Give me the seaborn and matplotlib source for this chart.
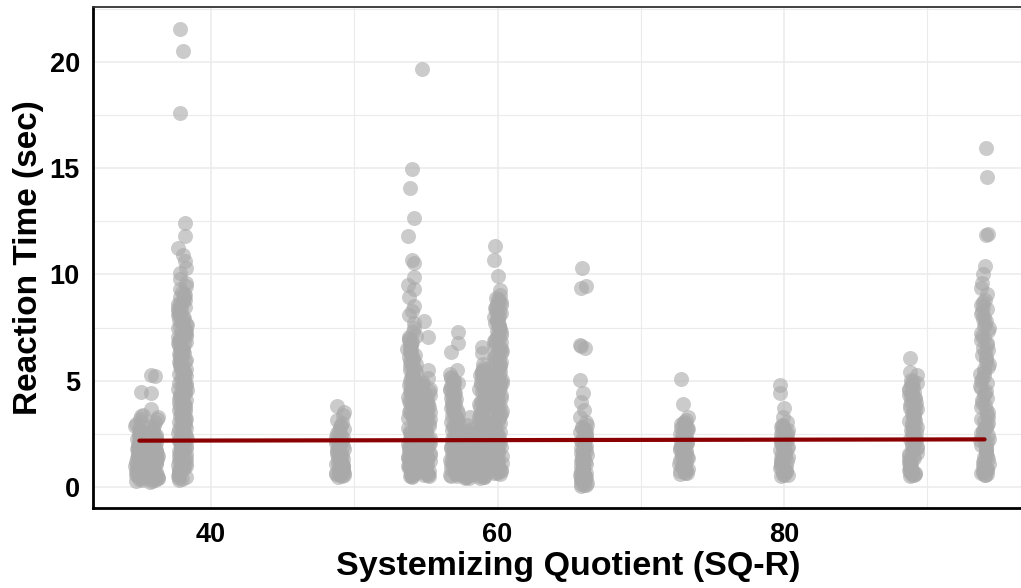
import numpy as np
import pandas as pd
import matplotlib.pyplot as plt
from matplotlib.ticker import MultipleLocator
import seaborn as sns

# SQ-R score of each participant column, and the reaction times (sec)
sq_levels = [35, 36, 38, 49, 54, 55, 57, 58, 59, 60, 66, 73, 80, 89, 94]

rt_35 = [0.28, 0.33, 0.38, 0.42, 0.46, 0.5, 0.53, 0.57, 0.6, 0.63, 0.67, 0.7, 0.73, 0.77, 0.8, 0.83,
         0.87, 0.9, 0.94, 0.97, 1.0, 1.04, 1.08, 1.11, 1.15, 1.19, 1.22, 1.26, 1.3, 1.34, 1.38, 1.42,
         1.46, 1.5, 1.55, 1.59, 1.63, 1.68, 1.72, 1.77, 1.82, 1.87, 1.92, 1.97, 2.03, 2.09, 2.15, 2.21,
         2.28, 2.35, 2.42, 2.5, 2.58, 2.66, 2.75, 2.85, 2.95, 3.06, 3.18, 3.32, 3.4, 4.47]
rt_36 = [0.22, 0.27, 0.32, 0.36, 0.4, 0.44, 0.48, 0.52, 0.56, 0.6, 0.64, 0.68, 0.72, 0.76, 0.8, 0.84,
         0.88, 0.92, 0.96, 1.0, 1.04, 1.09, 1.13, 1.17, 1.21, 1.26, 1.3, 1.35, 1.39, 1.44, 1.49, 1.54,
         1.59, 1.64, 1.69, 1.75, 1.81, 1.87, 1.93, 1.99, 2.06, 2.13, 2.2, 2.28, 2.36, 2.44, 2.53, 2.62,
         2.72, 2.82, 2.93, 3.05, 3.18, 3.3, 3.68, 4.4, 5.2, 5.27]
rt_38 = [21.54, 20.53, 17.6, 12.44, 11.83, 11.24, 10.92, 10.62, 10.3, 10.07, 9.8, 9.6, 9.45, 9.3,
         9.18, 9.1, 9.02, 8.95, 8.88, 8.8, 8.73, 8.66, 8.6, 8.53, 8.46, 8.4, 8.33, 8.27, 8.2, 8.14,
         8.08, 8.02, 7.96, 7.9, 7.84, 7.78, 7.72, 7.66, 7.6, 7.55, 7.49, 7.43, 7.38, 7.32, 7.27, 7.21,
         7.16, 7.1, 7.05, 6.99, 6.94, 6.88, 6.83, 6.78, 6.72, 6.67, 6.62, 6.56, 6.51, 6.46, 6.4, 6.35,
         6.3, 6.25, 6.19, 6.14, 6.09, 6.04, 5.98, 5.93, 5.88, 5.83, 5.78, 5.72, 5.67, 5.62, 5.57, 5.52,
         5.46, 5.41, 5.36, 5.31, 5.26, 5.2, 5.15, 5.1, 5.05, 5.0, 4.94, 4.89, 4.84, 4.79, 4.74, 4.68,
         4.63, 4.58, 4.53, 4.48, 4.42, 4.37, 4.32, 4.27, 4.22, 4.16, 4.11, 4.06, 4.01, 3.96, 3.9, 3.85,
         3.8, 3.75, 3.7, 3.64, 3.59, 3.54, 3.49, 3.44, 3.38, 3.33, 3.28, 3.23, 3.18, 3.12, 3.07, 3.02,
         2.97, 2.92, 2.86, 2.81, 2.76, 2.71, 2.66, 2.6, 2.55, 2.5, 2.45, 2.4, 2.34, 2.29, 2.24, 2.19,
         2.14, 2.08, 2.03, 1.98, 1.93, 1.88, 1.82, 1.77, 1.72, 1.67, 1.62, 1.56, 1.51, 1.46, 1.41, 1.36,
         1.3, 1.25, 1.2, 1.15, 1.1, 1.04, 0.99, 0.94, 0.89, 0.84, 0.78, 0.73, 0.68, 0.63, 0.58, 0.52,
         0.47, 0.42, 0.37, 0.32]
rt_49 = [0.47, 0.5, 0.54, 0.57, 0.6, 0.64, 0.67, 0.71, 0.74, 0.78, 0.82, 0.86, 0.9, 0.94, 0.98, 1.02,
         1.06, 1.1, 1.15, 1.2, 1.25, 1.3, 1.35, 1.4, 1.45, 1.5, 1.56, 1.62, 1.68, 1.74, 1.8, 1.86, 1.93,
         2.0, 2.07, 2.14, 2.21, 2.29, 2.37, 2.45, 2.54, 2.63, 2.72, 2.82, 2.92, 3.02, 3.15, 3.38, 3.52,
         3.8]
rt_54 = [14.96, 14.07, 12.65, 11.83, 10.7, 10.55, 9.9, 9.5, 9.3, 8.95, 8.5, 8.3, 8.1, 7.72, 7.5, 7.3,
         7.12, 7.05, 6.98, 6.9, 6.83, 6.76, 6.69, 6.62, 6.55, 6.48, 6.41, 6.34, 6.27, 6.2, 6.13, 6.06,
         5.99, 5.92, 5.85, 5.78, 5.71, 5.64, 5.57, 5.5, 5.43, 5.36, 5.29, 5.22, 5.15, 5.08, 5.01, 4.94,
         4.87, 4.8, 4.73, 4.66, 4.59, 4.52, 4.45, 4.38, 4.31, 4.24, 4.17, 4.1, 4.03, 3.96, 3.89, 3.82,
         3.75, 3.68, 3.61, 3.54, 3.47, 3.4, 3.33, 3.26, 3.19, 3.12, 3.05, 2.98, 2.91, 2.84, 2.77, 2.7,
         2.63, 2.56, 2.49, 2.42, 2.35, 2.28, 2.21, 2.14, 2.07, 2.0, 1.93, 1.86, 1.79, 1.72, 1.65, 1.58,
         1.51, 1.44, 1.37, 1.3, 1.23, 1.16, 1.09, 1.02, 0.95, 0.88, 0.81, 0.74, 0.67, 0.6, 0.53, 0.47,
         0.5, 0.57, 0.64, 0.71, 0.85, 0.99, 1.13, 1.27, 1.41, 1.55]
rt_55 = [19.66, 7.8, 7.06, 5.5, 5.15, 4.95, 4.88, 4.81, 4.74, 4.67, 4.6, 4.53, 4.46, 4.39, 4.32, 4.25,
         4.18, 4.11, 4.04, 3.97, 3.9, 3.83, 3.76, 3.69, 3.62, 3.55, 3.48, 3.41, 3.34, 3.27, 3.2, 3.13,
         3.06, 2.99, 2.92, 2.85, 2.78, 2.71, 2.64, 2.57, 2.5, 2.43, 2.36, 2.29, 2.22, 2.15, 2.08, 2.01,
         1.94, 1.87, 1.8, 1.73, 1.66, 1.59, 1.52, 1.45, 1.38, 1.31, 1.24, 1.17, 1.1, 1.03, 0.96, 0.89,
         0.82, 0.75, 0.68, 0.61, 0.54, 0.5, 0.58, 0.66, 0.74, 0.92, 1.06]
rt_57 = [7.3, 6.78, 6.33, 5.5, 5.3, 5.18, 5.11, 5.04, 4.97, 4.9, 4.83, 4.76, 4.69, 4.62, 4.55, 4.48,
         4.41, 4.34, 4.27, 4.2, 4.13, 4.06, 3.99, 3.92, 3.85, 3.78, 3.71, 3.64, 3.57, 3.5, 3.43, 3.36,
         3.29, 3.22, 3.15, 3.08, 3.01, 2.94, 2.87, 2.8, 2.73, 2.66, 2.59, 2.52, 2.45, 2.38, 2.31, 2.24,
         2.17, 2.1, 2.03, 1.96, 1.89, 1.82, 1.75, 1.68, 1.61, 1.54, 1.47, 1.4, 1.33, 1.26, 1.19, 1.12,
         1.05, 0.98, 0.91, 0.84, 0.77, 0.7, 0.63, 0.56, 0.5, 0.53, 0.6, 0.67, 0.8, 0.94, 1.08]
rt_58 = [3.3, 2.9, 2.75, 2.68, 2.62, 2.56, 2.5, 2.44, 2.38, 2.32, 2.26, 2.2, 2.14, 2.08, 2.02, 1.96,
         1.9, 1.84, 1.78, 1.72, 1.66, 1.6, 1.54, 1.48, 1.42, 1.36, 1.3, 1.24, 1.18, 1.12, 1.06, 1.0,
         0.94, 0.88, 0.82, 0.76, 0.7, 0.64, 0.58, 0.52, 0.46, 0.4, 0.43, 0.49, 0.55, 0.61, 0.73, 0.85,
         0.97]
rt_59 = [6.6, 6.3, 5.8, 5.6, 5.53, 5.46, 5.39, 5.32, 5.25, 5.18, 5.11, 5.04, 4.97, 4.9, 4.83, 4.76,
         4.69, 4.62, 4.55, 4.48, 4.41, 4.34, 4.27, 4.2, 4.13, 4.06, 3.99, 3.92, 3.85, 3.78, 3.71, 3.64,
         3.57, 3.5, 3.43, 3.36, 3.29, 3.22, 3.15, 3.08, 3.01, 2.94, 2.87, 2.8, 2.73, 2.66, 2.59, 2.52,
         2.45, 2.38, 2.31, 2.24, 2.17, 2.1, 2.03, 1.96, 1.89, 1.82, 1.75, 1.68, 1.61, 1.54, 1.47, 1.4,
         1.33, 1.26, 1.19, 1.12, 1.05, 0.98, 0.91, 0.84, 0.77, 0.7, 0.63, 0.56, 0.49, 0.42, 0.46, 0.52,
         0.6, 0.74, 0.88]
rt_60 = [11.36, 10.7, 9.93, 9.27, 9.05, 8.9, 8.83, 8.76, 8.69, 8.62, 8.55, 8.48, 8.41, 8.34, 8.27,
         8.2, 8.13, 8.06, 7.99, 7.92, 7.85, 7.78, 7.71, 7.64, 7.57, 7.5, 7.43, 7.36, 7.29, 7.22, 7.15,
         7.08, 7.01, 6.94, 6.87, 6.8, 6.73, 6.66, 6.59, 6.52, 6.45, 6.38, 6.31, 6.24, 6.17, 6.1, 6.03,
         5.96, 5.89, 5.82, 5.75, 5.68, 5.61, 5.54, 5.47, 5.4, 5.33, 5.26, 5.19, 5.12, 5.05, 4.98, 4.91,
         4.84, 4.77, 4.7, 4.63, 4.56, 4.49, 4.42, 4.35, 4.28, 4.21, 4.14, 4.07, 4.0, 3.93, 3.86, 3.79,
         3.72, 3.65, 3.58, 3.51, 3.44, 3.37, 3.3, 3.23, 3.16, 3.09, 3.02, 2.95, 2.88, 2.81, 2.74, 2.67,
         2.6, 2.53, 2.46, 2.39, 2.32, 2.25, 2.18, 2.11, 2.04, 1.97, 1.9, 1.83, 1.76, 1.69, 1.62, 1.55,
         1.48, 1.41, 1.34, 1.27, 1.2, 1.13, 1.06, 0.99, 0.92, 0.85, 0.78, 0.71, 0.64, 0.6, 0.67, 0.74,
         0.88]
rt_66 = [10.3, 9.46, 9.36, 6.7, 6.62, 6.54, 5.04, 4.42, 4.0, 3.64, 3.3, 3.05, 2.9, 2.84, 2.78, 2.72,
         2.66, 2.6, 2.54, 2.48, 2.42, 2.36, 2.3, 2.24, 2.18, 2.12, 2.06, 2.0, 1.94, 1.88, 1.82, 1.76,
         1.7, 1.64, 1.58, 1.52, 1.46, 1.4, 1.34, 1.28, 1.22, 1.16, 1.1, 1.04, 0.98, 0.92, 0.86, 0.8,
         0.74, 0.68, 0.62, 0.56, 0.5, 0.44, 0.38, 0.32, 0.26, 0.2, 0.14, 0.08, 0.04, 0.11, 0.23, 0.35,
         0.47, 0.59]
rt_73 = [5.08, 3.9, 3.3, 3.15, 3.08, 3.02, 2.96, 2.9, 2.84, 2.78, 2.72, 2.66, 2.6, 2.54, 2.48, 2.42,
         2.36, 2.3, 2.24, 2.18, 2.12, 2.06, 2.0, 1.94, 1.88, 1.82, 1.76, 1.7, 1.64, 1.58, 1.52, 1.46,
         1.4, 1.34, 1.28, 1.22, 1.16, 1.1, 1.04, 0.98, 0.92, 0.86, 0.8, 0.74, 0.68, 0.62, 0.65, 0.71,
         0.83]
rt_80 = [4.78, 4.4, 3.72, 3.28, 3.05, 2.92, 2.86, 2.8, 2.74, 2.68, 2.62, 2.56, 2.5, 2.44, 2.38, 2.32,
         2.26, 2.2, 2.14, 2.08, 2.02, 1.96, 1.9, 1.84, 1.78, 1.72, 1.66, 1.6, 1.54, 1.48, 1.42, 1.36,
         1.3, 1.24, 1.18, 1.12, 1.06, 1.0, 0.94, 0.88, 0.82, 0.76, 0.7, 0.64, 0.58, 0.52, 0.55, 0.61,
         0.73]
rt_89 = [6.06, 5.4, 5.25, 5.05, 4.98, 4.91, 4.84, 4.77, 4.7, 4.63, 4.56, 4.49, 4.42, 4.35, 4.28, 4.21,
         4.14, 4.07, 4.0, 3.93, 3.86, 3.79, 3.72, 3.65, 3.58, 3.51, 3.44, 3.37, 3.3, 3.23, 3.16, 3.09,
         3.02, 2.95, 2.88, 2.81, 2.74, 2.67, 2.6, 2.53, 2.46, 2.39, 2.32, 2.25, 2.18, 2.11, 2.04, 1.97,
         1.9, 1.83, 1.76, 1.69, 1.62, 1.55, 1.48, 1.41, 1.34, 1.27, 1.2, 1.13, 1.06, 0.99, 0.92, 0.85,
         0.78, 0.71, 0.64, 0.57, 0.5, 0.54, 0.6, 0.68, 0.82]
rt_94 = [15.97, 14.6, 11.9, 11.85, 10.4, 10.0, 9.6, 9.36, 9.1, 8.8, 8.7, 8.58, 8.47, 8.36, 8.25, 8.13,
         8.02, 7.91, 7.8, 7.68, 7.57, 7.46, 7.35, 7.23, 7.12, 7.01, 6.9, 6.78, 6.67, 6.56, 6.45, 6.33,
         6.22, 6.11, 6.0, 5.88, 5.77, 5.66, 5.55, 5.43, 5.32, 5.21, 5.1, 4.98, 4.87, 4.76, 4.65, 4.53,
         4.42, 4.31, 4.2, 4.08, 3.97, 3.86, 3.75, 3.63, 3.52, 3.41, 3.3, 3.2, 3.1, 3.0, 2.92, 2.84,
         2.76, 2.68, 2.6, 2.52, 2.44, 2.36, 2.28, 2.2, 2.12, 2.04, 1.96, 1.88, 1.8, 1.72, 1.64, 1.56,
         1.48, 1.4, 1.32, 1.24, 1.16, 1.08, 1.0, 0.93, 0.86, 0.79, 0.72, 0.65, 0.58, 0.55, 0.62, 0.7,
         0.85]

# fitted linear trend (ends of the red line)
fit_sq = [35, 94]
fit_rt = [2.18, 2.24]

columns = [rt_35, rt_36, rt_38, rt_49, rt_54, rt_55, rt_57, rt_58, rt_59, rt_60,
           rt_66, rt_73, rt_80, rt_89, rt_94]
df = pd.DataFrame({
    'sq': np.repeat(sq_levels, [len(c) for c in columns]),
    'rt': np.concatenate(columns),
})

sns.set_style('white')
plt.rcParams['font.family'] = ['Liberation Sans', 'DejaVu Sans']
plt.rcParams['font.weight'] = 'bold'

W, H = 1021, 588
fig = plt.figure(figsize=(W / 100, H / 100), dpi=100)
ax = fig.add_axes([93 / W, (H - 508) / H, (1043 - 93) / W, (508 - 7) / H])

np.random.seed(7)  # only for the jitter of the strip plot
sns.stripplot(data=df, x='sq', y='rt', native_scale=True, orient='x', jitter=0.3,
              color='darkgray', alpha=0.6, size=10.8, linewidth=0, ax=ax, zorder=2)
sns.lineplot(x=fit_sq, y=fit_rt, color='#8b0000', linewidth=3, ax=ax, zorder=3)

ax.set_xlim(31.76, 98.08)
ax.set_ylim(-0.99, 22.59)
ax.set_xticks([40, 60, 80])
ax.set_yticks([0, 5, 10, 15, 20])
ax.xaxis.set_minor_locator(MultipleLocator(10))
ax.yaxis.set_minor_locator(MultipleLocator(2.5))
ax.set_axisbelow(True)
ax.grid(which='major', color='#ebebeb', linewidth=1.1)
ax.grid(which='minor', color='#ebebeb', linewidth=0.8)

ax.tick_params(which='major', length=3, width=1.2, color='#333333', labelsize=19.5, labelcolor='black')
ax.tick_params(which='minor', length=0)
ax.tick_params(axis='x', pad=7)
ax.tick_params(axis='y', pad=6.5)

for side in ['left', 'bottom']:
    ax.spines[side].set_color('black')
    ax.spines[side].set_linewidth(2)
ax.spines['top'].set_color('#333333')
ax.spines['top'].set_linewidth(1.3)
ax.spines['right'].set_visible(False)

ax.set_xlabel('Systemizing Quotient (SQ-R)', fontsize=24.5, fontweight='bold', color='black', labelpad=2)
ax.set_ylabel('Reaction Time (sec)', fontsize=24, fontweight='bold', color='black', labelpad=4)

fig.savefig('out.png', dpi=100)
